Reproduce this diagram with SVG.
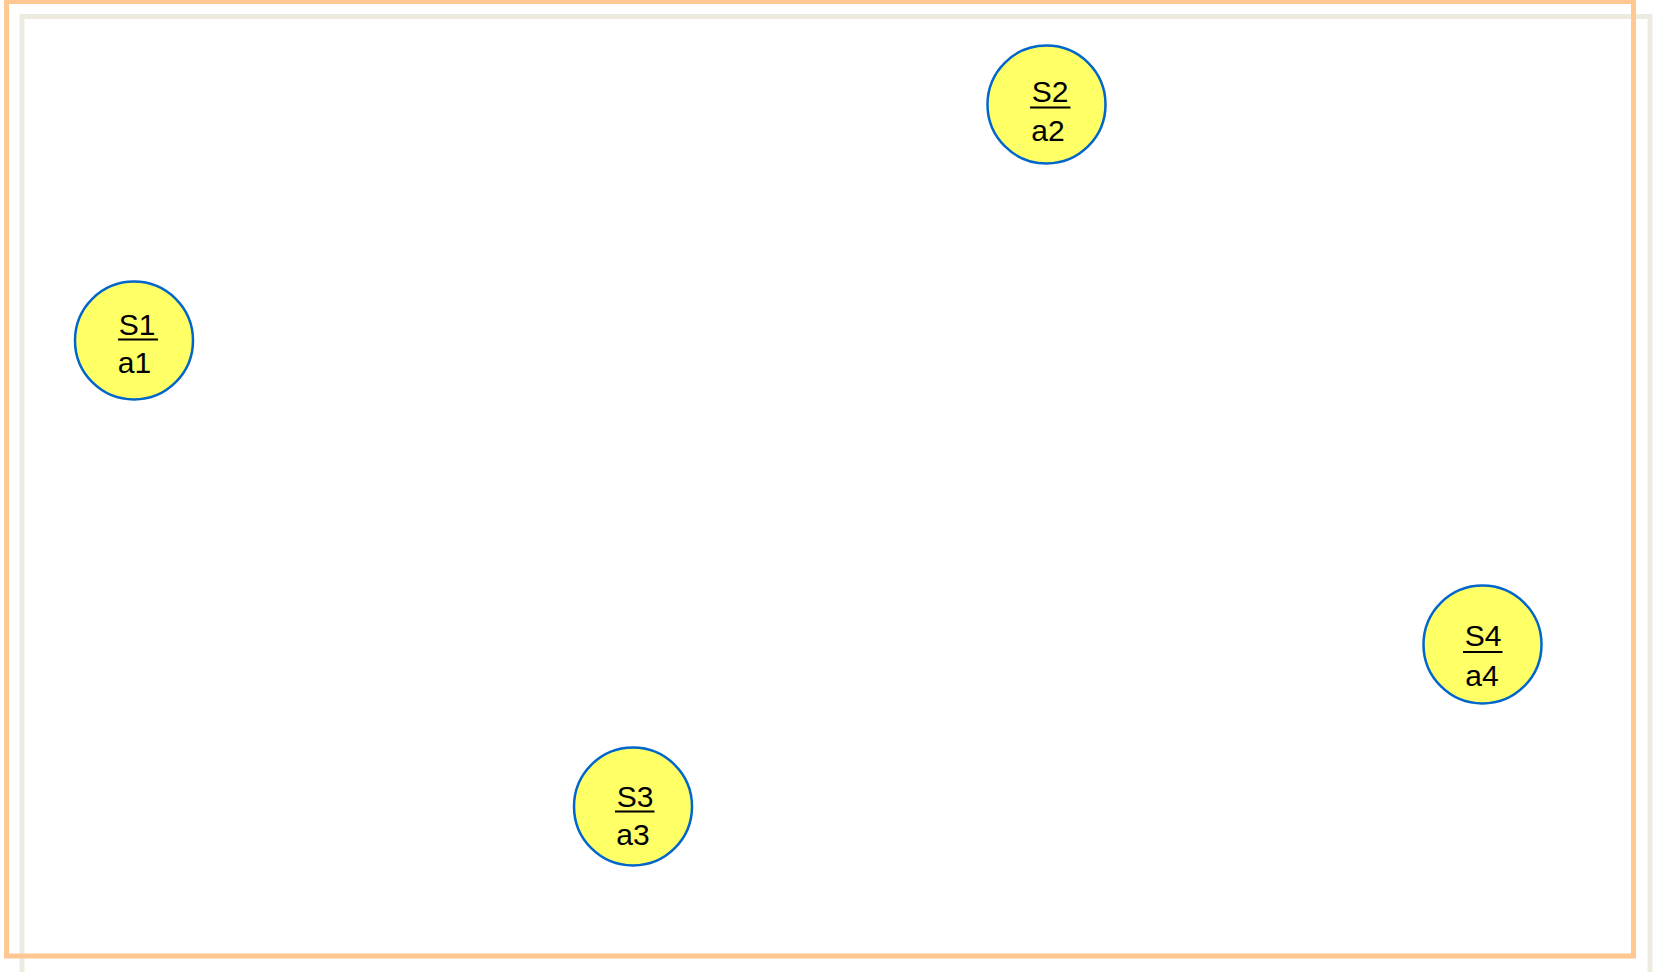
<svg xmlns="http://www.w3.org/2000/svg" width="1659" height="972" viewBox="0 0 1659 972">
<style>
.node circle{fill:#FFFF66;stroke:#0066CC;stroke-width:2.5}
.node text{font-family:"Liberation Sans",Arial,sans-serif;font-size:30px;fill:#000;text-anchor:middle}
.node line{stroke:#000;stroke-width:2}
</style>
<rect x="0" y="0" width="1659" height="972" fill="#fff"/>
<rect id="frame-inner" x="22" y="16.5" width="1628" height="958" fill="none" stroke="#EDEBE0" stroke-width="5"/>
<rect id="frame-outer" x="6.5" y="1.5" width="1627" height="954.5" fill="none" stroke="#FFC891" stroke-width="5"/>
<g id="connectors"></g>
<g id="S1" class="node">
<circle cx="134" cy="340.5" r="59"/>
<text x="137" y="334.5">S1</text>
<line x1="118" y1="339.5" x2="158" y2="339.5"/>
<text x="134.5" y="372.5">a1</text>
</g>
<g id="S2" class="node">
<circle cx="1046.5" cy="104.5" r="59"/>
<text x="1050" y="101.5">S2</text>
<line x1="1030" y1="107.5" x2="1070.5" y2="107.5"/>
<text x="1048" y="141">a2</text>
</g>
<g id="S3" class="node">
<circle cx="633" cy="806.5" r="59"/>
<text x="635" y="806.5">S3</text>
<line x1="615" y1="811.5" x2="654.5" y2="811.5"/>
<text x="633" y="844.5">a3</text>
</g>
<g id="S4" class="node">
<circle cx="1482.5" cy="644.5" r="59"/>
<text x="1483" y="645.5">S4</text>
<line x1="1463" y1="652" x2="1502.5" y2="652"/>
<text x="1482" y="686">a4</text>
</g>
</svg>
